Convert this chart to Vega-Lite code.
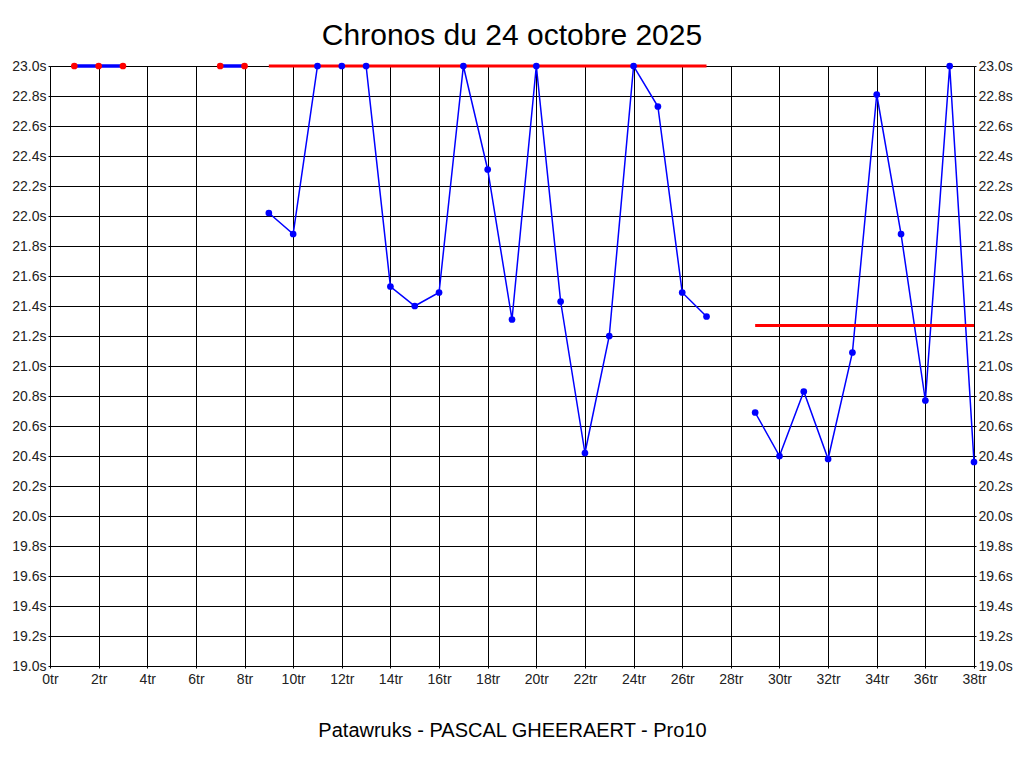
{
  "$schema": "https://vega.github.io/schema/vega-lite/v6.json",
  "width": 924,
  "height": 600,
  "autosize": {"type": "none"},
  "padding": {"left": 50, "top": 66, "right": 50, "bottom": 102},
  "background": "white",
  "title": {
    "text": "Chronos du 24 octobre 2025",
    "font": "Liberation Sans",
    "fontSize": 30,
    "fontWeight": "normal",
    "color": "black",
    "anchor": "middle",
    "offset": 8
  },
  "datasets": {
    "laps": [
      {"lap": 1, "time": 23.0, "seg": "A", "clip": true},
      {"lap": 2, "time": 23.0, "seg": "A", "clip": true},
      {"lap": 3, "time": 23.0, "seg": "A", "clip": true},
      {"lap": 7, "time": 23.0, "seg": "B", "clip": true},
      {"lap": 8, "time": 23.0, "seg": "B", "clip": true},
      {"lap": 9, "time": 22.02, "seg": "C", "clip": false},
      {"lap": 10, "time": 21.88, "seg": "C", "clip": false},
      {"lap": 11, "time": 23.0, "seg": "C", "clip": false},
      {"lap": 12, "time": 23.0, "seg": "C", "clip": false},
      {"lap": 13, "time": 23.0, "seg": "C", "clip": false},
      {"lap": 14, "time": 21.53, "seg": "C", "clip": false},
      {"lap": 15, "time": 21.4, "seg": "C", "clip": false},
      {"lap": 16, "time": 21.49, "seg": "C", "clip": false},
      {"lap": 17, "time": 23.0, "seg": "C", "clip": false},
      {"lap": 18, "time": 22.31, "seg": "C", "clip": false},
      {"lap": 19, "time": 21.31, "seg": "C", "clip": false},
      {"lap": 20, "time": 23.0, "seg": "C", "clip": false},
      {"lap": 21, "time": 21.43, "seg": "C", "clip": false},
      {"lap": 22, "time": 20.42, "seg": "C", "clip": false},
      {"lap": 23, "time": 21.2, "seg": "C", "clip": false},
      {"lap": 24, "time": 23.0, "seg": "C", "clip": false},
      {"lap": 25, "time": 22.73, "seg": "C", "clip": false},
      {"lap": 26, "time": 21.49, "seg": "C", "clip": false},
      {"lap": 27, "time": 21.33, "seg": "C", "clip": false},
      {"lap": 29, "time": 20.69, "seg": "D", "clip": false},
      {"lap": 30, "time": 20.4, "seg": "D", "clip": false},
      {"lap": 31, "time": 20.83, "seg": "D", "clip": false},
      {"lap": 32, "time": 20.38, "seg": "D", "clip": false},
      {"lap": 33, "time": 21.09, "seg": "D", "clip": false},
      {"lap": 34, "time": 22.81, "seg": "D", "clip": false},
      {"lap": 35, "time": 21.88, "seg": "D", "clip": false},
      {"lap": 36, "time": 20.77, "seg": "D", "clip": false},
      {"lap": 37, "time": 23.0, "seg": "D", "clip": false},
      {"lap": 38, "time": 20.36, "seg": "D", "clip": false}
    ],
    "means": [
      {"start": 9, "end": 27, "time": 23.0},
      {"start": 29, "end": 38, "time": 21.27}
    ]
  },
  "config": {
    "view": {"stroke": null},
    "axis": {
      "gridColor": "black",
      "gridOpacity": 1,
      "gridWidth": 1,
      "domainColor": "black",
      "domainWidth": 1,
      "tickColor": "black",
      "tickSize": 2,
      "labelFont": "Liberation Sans",
      "labelFontSize": 14,
      "labelColor": "#222222",
      "labelFlush": false,
      "labelOverlap": false,
      "titleFont": "Liberation Sans",
      "titleColor": "black",
      "titleFontWeight": "normal"
    }
  },
  "resolve": {"axis": {"y": "independent"}},
  "layer": [
    {
      "data": {"name": "laps"},
      "transform": [{"filter": "datum.clip"}],
      "mark": {"type": "line", "color": "#0000ff", "strokeWidth": 3.5},
      "encoding": {
        "x": {
          "field": "lap", "type": "quantitative",
          "scale": {"domain": [0, 38], "nice": false},
          "axis": {
            "values": [0,2,4,6,8,10,12,14,16,18,20,22,24,26,28,30,32,34,36,38],
            "labelExpr": "datum.value + 'tr'",
            "grid": true,
            "labelPadding": 4,
            "title": "Patawruks - PASCAL GHEERAERT - Pro10",
            "titleFontSize": 20,
            "titlePadding": 34
          }
        },
        "y": {
          "field": "time", "type": "quantitative",
          "scale": {"domain": [19, 23], "nice": false, "zero": false},
          "axis": {
            "orient": "left",
            "values": [19,19.2,19.4,19.6,19.8,20,20.2,20.4,20.6,20.8,21,21.2,21.4,21.6,21.8,22,22.2,22.4,22.6,22.8,23],
            "labelExpr": "format(datum.value, '.1f') + 's'",
            "grid": true,
            "title": null,
            "labelPadding": 2
          }
        },
        "detail": {"field": "seg"}
      }
    },
    {
      "data": {"name": "laps"},
      "transform": [{"filter": "!datum.clip"}],
      "mark": {"type": "line", "color": "#0000ff", "strokeWidth": 1.5},
      "encoding": {
        "x": {"field": "lap", "type": "quantitative"},
        "y": {
          "field": "time", "type": "quantitative",
          "axis": {
            "orient": "right",
            "values": [19,19.2,19.4,19.6,19.8,20,20.2,20.4,20.6,20.8,21,21.2,21.4,21.6,21.8,22,22.2,22.4,22.6,22.8,23],
            "labelExpr": "format(datum.value, '.1f') + 's'",
            "grid": false,
            "title": null,
            "labelPadding": 2
          }
        },
        "detail": {"field": "seg"}
      }
    },
    {
      "data": {"name": "means"},
      "mark": {"type": "rule", "color": "#ff0000", "strokeWidth": 3},
      "encoding": {
        "x": {"field": "start", "type": "quantitative"},
        "x2": {"field": "end"},
        "y": {"field": "time", "type": "quantitative", "axis": null}
      }
    },
    {
      "data": {"name": "laps"},
      "mark": {"type": "circle", "size": 45, "opacity": 1},
      "encoding": {
        "x": {"field": "lap", "type": "quantitative"},
        "y": {"field": "time", "type": "quantitative", "axis": null},
        "color": {
          "field": "clip", "type": "nominal",
          "scale": {"domain": [true, false], "range": ["#ff0000", "#0000ff"]},
          "legend": null
        }
      }
    }
  ]
}
